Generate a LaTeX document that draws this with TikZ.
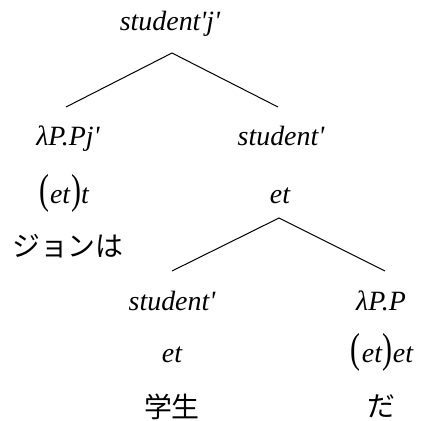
\documentclass[tikz,border=0pt]{standalone}
\usepackage{fontspec}
\setmainfont{Liberation Serif}[Ligatures=TeXOff]
\newfontfamily\jafont{Noto Sans CJK JP}
\usepackage{tikz}
\usetikzlibrary{positioning}
\newcommand{\lpar}{{\fontsize{30}{30}\selectfont\upshape\scalebox{1}[1.4]{(}\kern1bp}}
\newcommand{\rpar}{{\fontsize{30}{30}\selectfont\upshape\kern1bp\scalebox{1}[1.4]{)}}}

\begin{document}
\begin{tikzpicture}[
    x=1bp, y=-1bp,
    lbl/.style={font=\fontsize{28}{32}\selectfont\itshape, inner sep=0pt, anchor=base},
    jp/.style={font=\fontsize{28}{32}\selectfont\jafont, inner sep=0pt, anchor=base},
    branch/.style={line width=1bp},
]
    \useasboundingbox (0,0) rectangle (422,421);

    % Root
    \node[lbl] (root) at (170,30) {student'j'};

    % Left daughter
    \node[lbl] (lam) at (68,145) {λP.Pj'};
    \node[lbl] (lamty) at (64,203) {\lpar et\rpar t};
    \node[jp] (john) at (68,256) {ジョンは};

    % Right daughter
    \node[lbl] (stu) at (281,145) {student'};
    \node[lbl] (stuty) at (280,203) {et};

    % Lower daughters
    \node[lbl] (noun) at (172,310) {student'};
    \node[lbl] (nounty) at (172,362) {et};
    \node[jp] (gakusei) at (172,417) {学生};

    \node[lbl] (cop) at (381,310) {λP.P};
    \node[lbl] (copty) at (382,362) {\lpar et\rpar et};
    \node[jp] (da) at (381,416) {だ};

    % Branch points
    \coordinate (rootfoot) at (172,53);
    \coordinate (lamhead) at (66,107);
    \coordinate (stuhead) at (278,107);
    \coordinate (stufoot) at (279,218);
    \coordinate (nounhead) at (172,271);
    \coordinate (cophead) at (385,271);

    % Branches
    \draw[branch] (lamhead) -- (rootfoot) -- (stuhead);
    \draw[branch] (nounhead) -- (stufoot) -- (cophead);
\end{tikzpicture}
\end{document}
